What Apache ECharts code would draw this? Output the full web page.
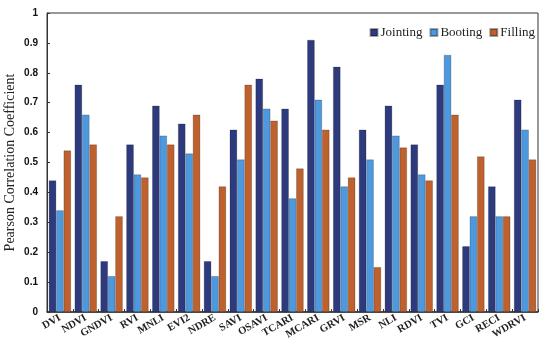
<!DOCTYPE html>
<html>
<head>
<meta charset="utf-8">
<script src="https://cdn.jsdelivr.net/npm/echarts@6/dist/echarts.min.js"></script>
<style>html,body{margin:0;padding:0;background:#fff;}#c{width:550px;height:348px;}</style>
</head>
<body>
<div id="c"></div>
<script>
var categories = ['DVI','NDVI','GNDVI','RVI','MNLI','EVI2','NDRE','SAVI','OSAVI','TCARI','MCARI','GRVI','MSR','NLI','RDVI','TVI','GCI','RECI','WDRVI'];
var jointing = [0.44,0.76,0.17,0.56,0.69,0.63,0.17,0.61,0.78,0.68,0.91,0.82,0.61,0.69,0.56,0.76,0.22,0.42,0.71];
var booting  = [0.34,0.66,0.12,0.46,0.59,0.53,0.12,0.51,0.68,0.38,0.71,0.42,0.51,0.59,0.46,0.86,0.32,0.32,0.61];
var filling  = [0.54,0.56,0.32,0.45,0.56,0.66,0.42,0.76,0.64,0.48,0.61,0.45,0.15,0.55,0.44,0.66,0.52,0.32,0.51];
var seriesNames = ['Jointing','Booting','Filling'];
var colors = ['#2E3A7E','#4E98DE','#BE612E'];

var chart = echarts.init(document.getElementById('c'), null, {renderer:'canvas'});
function mk(name, data, color){
  return {name:name, type:'bar', data:data, barGap:'0%', barCategoryGap:'14%',
    itemStyle:{color:color, borderColor:'rgba(0,0,0,0.35)', borderWidth:0.6}};
}
chart.setOption({
  animation:false,
  color:colors,
  grid:{left:47, right:12, top:13, bottom:36, show:true, borderColor:'#333', borderWidth:1,
    containLabel:false, outerBoundsMode:'none'},
  legend:{top:21, right:10, itemWidth:7, itemHeight:7, itemGap:7, icon:'rect',
    textStyle:{fontFamily:'Liberation Serif', fontSize:13, color:'#222', padding:[0,0,0,-2]},
    data:seriesNames},
  xAxis:{type:'category', data:categories,
    axisLine:{lineStyle:{color:'#333', width:1.5}},
    axisTick:{show:true, alignWithLabel:false, length:3, inside:true, lineStyle:{color:'#333'}},
    axisLabel:{interval:0, rotate:30, margin:5, fontFamily:'Liberation Serif', fontWeight:'bold', fontSize:10.5, color:'#222'}},
  yAxis:{type:'value', min:0, max:1, interval:0.1,
    name:'Pearson Correlation Coefficient', nameLocation:'middle', nameGap:30, nameMoveOverlap:false,
    nameTextStyle:{fontFamily:'Liberation Serif', fontSize:14, color:'#222'},
    axisLine:{show:true, lineStyle:{color:'#333'}},
    axisTick:{show:true, inside:true, length:3, lineStyle:{color:'#333'}},
    splitLine:{show:false},
    axisLabel:{margin:9, fontFamily:'Liberation Sans', fontWeight:'bold', fontSize:10, color:'#111',
      formatter:function(v){return String(Math.round(v*10)/10);}}},
  series:[mk(seriesNames[0],jointing,colors[0]), mk(seriesNames[1],booting,colors[1]), mk(seriesNames[2],filling,colors[2])]
});
</script>
</body>
</html>
